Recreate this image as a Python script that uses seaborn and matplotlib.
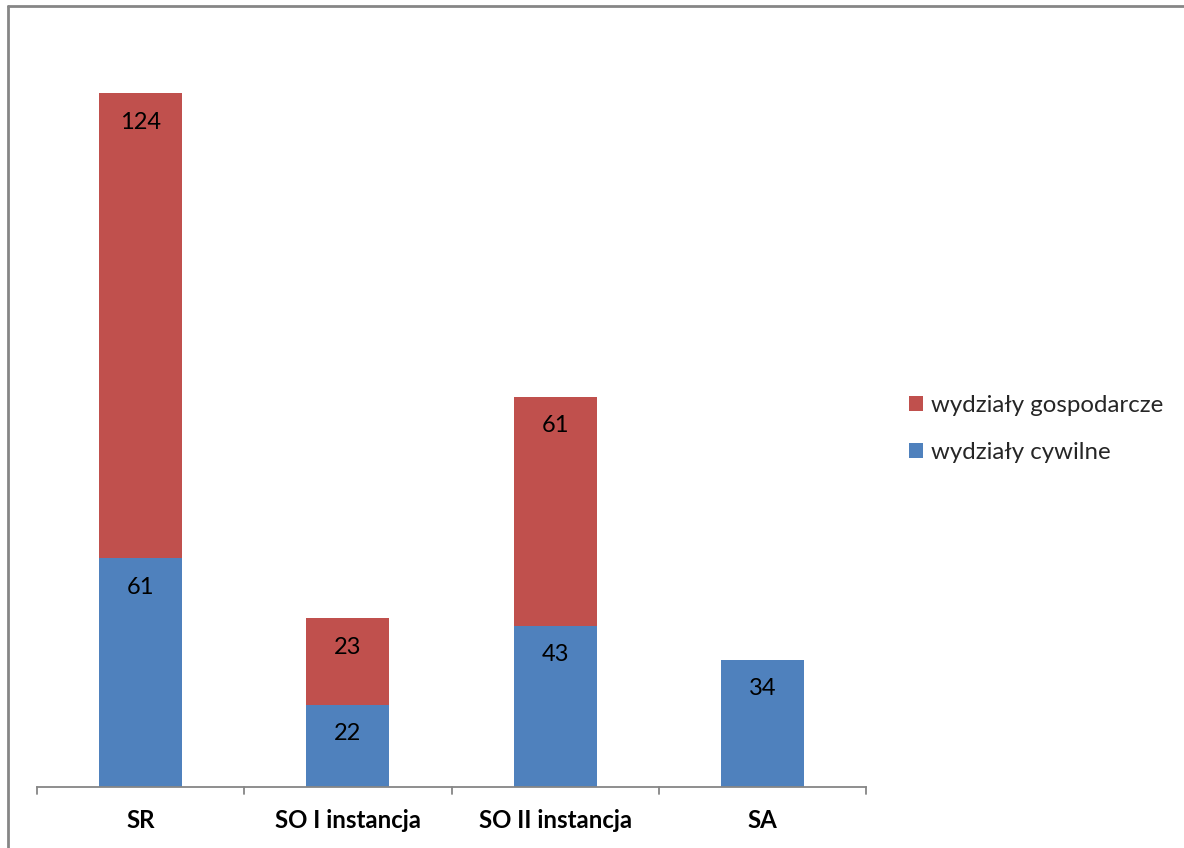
import matplotlib
matplotlib.use("Agg")
import matplotlib.pyplot as plt
from matplotlib.patches import Patch
from matplotlib.lines import Line2D
import seaborn as sns
import pandas as pd

categories = ["SR", "SO I instancja", "SO II instancja", "SA"]
cywilne = [61, 22, 43, 34]
gospodarcze = [124, 23, 61, 0]
series_names = ["wydziały gospodarcze", "wydziały cywilne"]

RED = "#C0504D"
BLUE = "#4F81BD"
AXIS = "#868686"

sns.set_theme(style="white")
plt.rcParams["font.family"] = ["Lato", "DejaVu Sans"]

df = pd.DataFrame({
    "kat": categories,
    "cyw": cywilne,
    "gosp": gospodarcze,
})
df["total"] = df["cyw"] + df["gosp"]

W, H = 1184, 848
fig = plt.figure(figsize=(W / 100, H / 100), dpi=100)
ax = fig.add_axes([37 / W, 1 - 787 / H, (866 - 37) / W, 750 / H])

sns.barplot(data=df, x="kat", y="total", color=RED, width=0.4, ax=ax,
            saturation=1, edgecolor="none", linewidth=0)
sns.barplot(data=df, x="kat", y="cyw", color=BLUE, width=0.4, ax=ax,
            saturation=1, edgecolor="none", linewidth=0)

ax.set_ylim(0, 200)
ax.set_xlim(-0.5, len(categories) - 0.5)
ax.set_xlabel("")
ax.set_ylabel("")
ax.set_yticks([])
for s in ["top", "right", "left"]:
    ax.spines[s].set_visible(False)
ax.spines["bottom"].set_color(AXIS)
ax.spines["bottom"].set_linewidth(1.3)

ax.set_xticks(range(len(categories)))
ax.set_xticklabels(categories, fontsize=17.3, fontweight="bold", color="black")
ax.tick_params(axis="x", length=0, pad=16)
# boundary tick marks
for b in [i - 0.5 for i in range(len(categories) + 1)]:
    ax.add_line(Line2D([b, b], [0, -0.0095], transform=ax.get_xaxis_transform(),
                       color=AXIS, linewidth=1.3, clip_on=False))

for i, (c, g) in enumerate(zip(cywilne, gospodarcze)):
    if c:
        ax.annotate(str(c), (i, c), xytext=(0, -29), textcoords="offset pixels",
                    ha="center", va="center", fontsize=17, color="black")
    if g:
        ax.annotate(str(g), (i, c + g), xytext=(0, -29), textcoords="offset pixels",
                    ha="center", va="center", fontsize=17, color="black")

handles = [Patch(facecolor=RED, edgecolor="none"), Patch(facecolor=BLUE, edgecolor="none")]
leg = fig.legend(handles, series_names, loc="center left",
                 bbox_to_anchor=(887 / W, 1 - 429 / H), frameon=False,
                 fontsize=17.3, handlelength=0.58, handleheight=0.58,
                 handletextpad=0.35, labelspacing=1.05)

# outer chart frame (top and left visible)
fig.add_artist(Line2D([8 / W, 1.0], [1 - 6 / H, 1 - 6 / H], transform=fig.transFigure,
                      color=AXIS, linewidth=2))
fig.add_artist(Line2D([8 / W, 8 / W], [0, 1 - 6 / H], transform=fig.transFigure,
                      color=AXIS, linewidth=2))

fig.savefig("out.png", dpi=100)
